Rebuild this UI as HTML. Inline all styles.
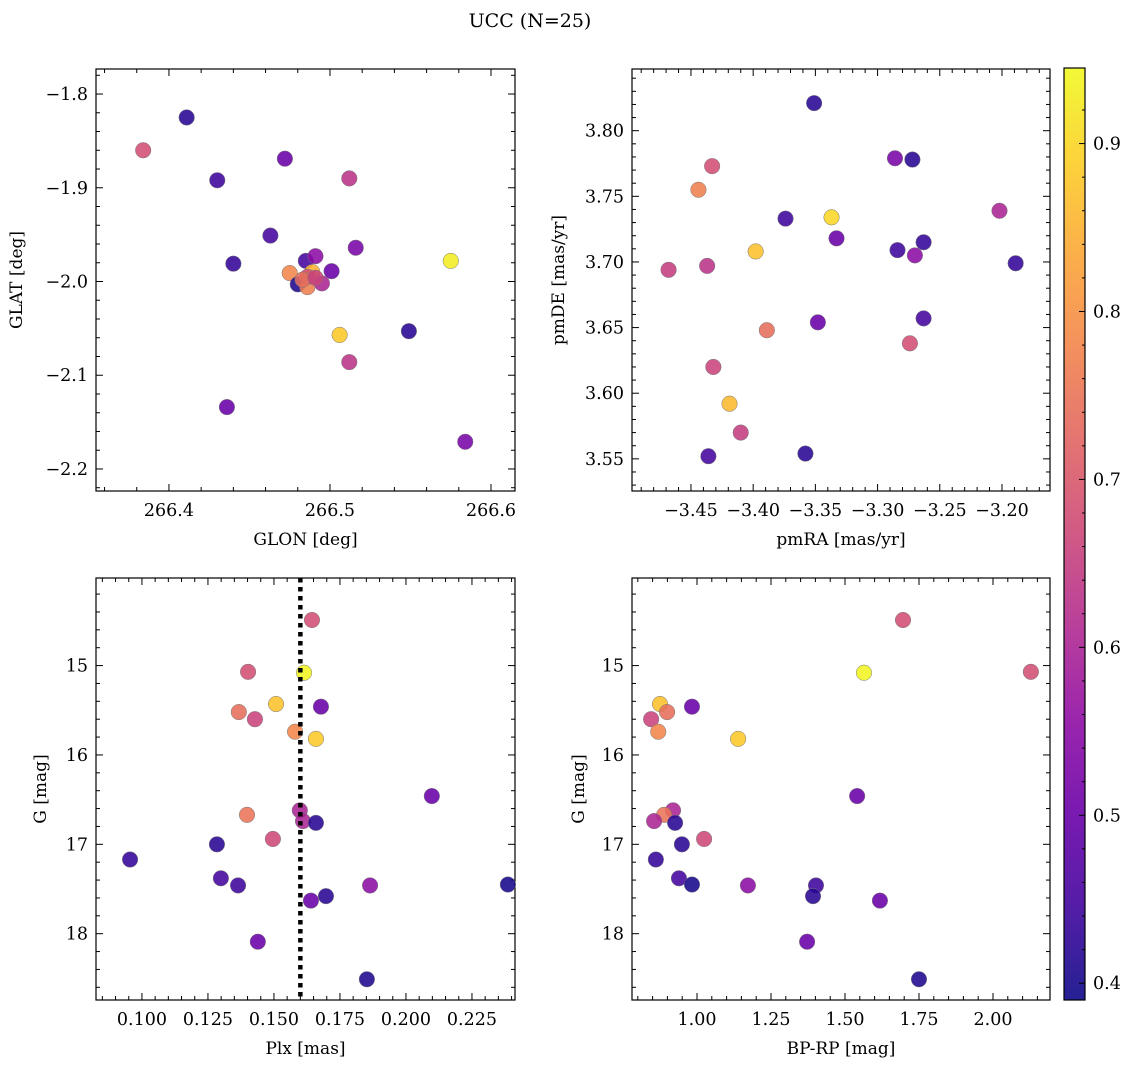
<!DOCTYPE html>
<html><head><meta charset="utf-8"><style>
body{margin:0;background:#fff}
svg text{font-family:"DejaVu Serif","Liberation Serif",serif;fill:#000}
</style></head><body>
<svg id="fig" width="1136" height="1068" xmlns="http://www.w3.org/2000/svg">
<text x="530" y="27" font-size="19" text-anchor="middle">UCC (N=25)</text>
</svg>
<script>
// Top-left: GLON/GLAT
const glon=[266.411,266.384,266.430,266.472,266.512,266.463,266.516,266.440,266.485,266.491,266.475,266.489,266.501,266.480,266.486,266.495,266.575,266.506,266.549,266.512,266.436,266.584,266.486,266.483,266.491];
const glat=[-1.825,-1.860,-1.892,-1.869,-1.890,-1.951,-1.964,-1.981,-1.978,-1.973,-1.991,-1.990,-1.989,-2.003,-2.006,-2.002,-1.978,-2.057,-2.053,-2.086,-2.134,-2.171,-1.995,-1.998,-1.996];
const probPos=[.42,.68,.44,.50,.63,.45,.52,.43,.45,.55,.78,.85,.50,.41,.77,.60,.93,.88,.42,.63,.50,.52,.68,.74,.66];
// Top-right: proper motions
const pmra=[-3.351,-3.433,-3.444,-3.286,-3.272,-3.374,-3.337,-3.202,-3.333,-3.398,-3.284,-3.263,-3.270,-3.189,-3.468,-3.437,-3.263,-3.348,-3.389,-3.274,-3.432,-3.419,-3.410,-3.436,-3.358];
const pmde=[3.821,3.773,3.755,3.779,3.778,3.733,3.734,3.739,3.718,3.708,3.709,3.715,3.705,3.699,3.694,3.697,3.657,3.654,3.648,3.638,3.620,3.592,3.570,3.552,3.554];
const probPM=[.42,.68,.77,.52,.42,.44,.90,.60,.50,.87,.44,.43,.55,.43,.65,.63,.45,.50,.74,.68,.66,.86,.65,.45,.42];
// Bottom: plx, G, BP-RP
const plx=[0.1644,0.1614,0.1402,0.1508,0.1678,0.1367,0.1428,0.1580,0.1659,0.2098,0.1598,0.1398,0.1610,0.1659,0.1496,0.1284,0.0955,0.1299,0.2386,0.1364,0.1864,0.1697,0.1640,0.1439,0.1852];
const gmag=[14.49,15.08,15.07,15.43,15.46,15.52,15.60,15.74,15.82,16.46,16.62,16.67,16.74,16.76,16.94,17.00,17.17,17.38,17.45,17.46,17.46,17.58,17.63,18.09,18.51];
const bprp=[1.696,1.564,2.128,0.875,0.983,0.899,0.845,0.869,1.139,1.541,0.919,0.889,0.855,0.926,1.024,0.949,0.861,0.939,0.983,1.402,1.172,1.392,1.618,1.372,1.750];
const probPh=[.68,.94,.68,.87,.50,.74,.66,.78,.88,.50,.60,.75,.60,.42,.67,.42,.43,.45,.40,.44,.55,.42,.50,.50,.41];
const plxLine=0.16;
const cbTicks=[0.4,0.5,0.6,0.7,0.8,0.9];
const vmin=0.39,vmax=0.945;

const NS="http://www.w3.org/2000/svg";
const svg=document.getElementById('fig');
function mk(t,a,p){const e=document.createElementNS(NS,t);for(const k in a)e.setAttribute(k,a[k]);(p||svg).appendChild(e);return e;}
const stops=["#0d0887","#41049d","#6a00a8","#8f0da4","#b12a90","#cc4778","#e16462","#f2844b","#fca636","#fcce25","#f0f921"];
function hex(h){return [1,3,5].map(i=>parseInt(h.substr(i,2),16));}
function cmap(v){let t=(v-vmin)/(vmax-vmin);t=Math.max(0,Math.min(1,t))*10;const i=Math.min(9,Math.floor(t)),f=t-i;const a=hex(stops[i]),b=hex(stops[i+1]);return 'rgb('+a.map((x,k)=>Math.round(x+(b[k]-x)*f)).join(',')+')';}
function fmt(v,d){return (v<0?'\u2212':'')+Math.abs(v).toFixed(d);}
const TFS=17.5, LFS=17;

function panel(name,box,xl,yl,xMaj,xMin,yMaj,yMin,xd,yd,xlabel,ylabel,ylx){
  const [x0,y0,x1,y1]=box;
  const g=mk('g',{});
  
  
  const sx=v=>x0+(v-xl[0])/(xl[1]-xl[0])*(x1-x0);
  const sy=v=>y0+(v-yl[0])/(yl[1]-yl[0])*(y1-y0);
  const tk=mk('g',{stroke:'#000','stroke-width':1},g);
  
  
  const lo=Math.min(...xl),hi=Math.max(...xl);
  for(let v=Math.ceil(lo/xMin-1e-6)*xMin;v<=hi+1e-9;v+=xMin){const x=sx(v);const maj=Math.abs(v/xMaj-Math.round(v/xMaj))<1e-4;const L=maj?7:4;
    mk('line',{x1:x,x2:x,y1:y1,y2:y1-L},tk);mk('line',{x1:x,x2:x,y1:y0,y2:y0+L},tk);
    if(maj){const t=mk('text',{x:x,y:y1+25,'font-size':TFS,'text-anchor':'middle'},g);t.textContent=fmt(v,xd);}}
  const ylo=Math.min(...yl),yhi=Math.max(...yl);
  for(let v=Math.ceil(ylo/yMin-1e-6)*yMin;v<=yhi+1e-9;v+=yMin){const y=sy(v);const maj=Math.abs(v/yMaj-Math.round(v/yMaj))<1e-4;const L=maj?7:4;
    mk('line',{x1:x0,x2:x0+L,y1:y,y2:y},tk);mk('line',{x1:x1,x2:x1-L,y1:y,y2:y},tk);
    if(maj){const t=mk('text',{x:x0-8,y:y+6,'font-size':TFS,'text-anchor':'end'},g);t.textContent=fmt(v,yd);}}
  const fr=mk('rect',{x:x0,y:y0,width:x1-x0,height:y1-y0,fill:'none',stroke:'#000','stroke-width':1.2},g);
  
  const xt=mk('text',{x:(x0+x1)/2,y:y1+54,'font-size':LFS,'text-anchor':'middle'},g);xt.textContent=xlabel;
  
  const yt=mk('text',{x:0,y:0,'font-size':LFS,'text-anchor':'middle',transform:`translate(${ylx},${(y0+y1)/2}) rotate(-90)`},g);yt.textContent=ylabel;
  
  return {g,sx,sy};
}
function scatter(p,xs,ys,cs){
  xs.forEach((v,i)=>{const c=mk('circle',{cx:p.sx(v),cy:p.sy(ys[i]),r:7.8,fill:cmap(cs[i]),'fill-opacity':0.88,stroke:'#777','stroke-width':0.5},p.g);
    
    });
}
const p1=panel('position-panel',[96,69,515,491],[266.3547,266.6149],[-1.7733,-2.2235],0.1,0.02,0.1,0.02,1,1,'GLON [deg]','GLAT [deg]',22);
scatter(p1,glon,glat,probPos);
const p2=panel('proper-motion-panel',[632,69,1050,491],[-3.4974,-3.1614],[3.847,3.5255],0.05,0.01,0.05,0.01,2,2,'pmRA [mas/yr]','pmDE [mas/yr]',564);
scatter(p2,pmra,pmde,probPM);
const p3=panel('parallax-panel',[96,578,515,1000],[0.0826,0.2413],[14.02,18.742],0.025,0.005,1,0.2,3,0,'Plx [mas]','G [mag]',46);
scatter(p3,plx,gmag,probPh);
const dl=mk('line',{x1:p3.sx(plxLine),x2:p3.sx(plxLine),y1:578,y2:1000,stroke:'#000','stroke-width':4.5,'stroke-dasharray':'4.5 4.5'},p3.g);


const p4=panel('cmd-panel',[632,578,1050,1000],[0.7804,2.1926],[14.02,18.742],0.25,0.05,1,0.2,2,0,'BP-RP [mag]','G [mag]',584);
scatter(p4,bprp,gmag,probPh);

// Colorbar
const cb=mk('g',{});


const defs=mk('defs',{});
const lg=mk('linearGradient',{id:'cbg',x1:0,y1:1,x2:0,y2:0},defs);
stops.forEach((s,i)=>mk('stop',{offset:i/10,'stop-color':s,'stop-opacity':0.9},lg));
const cy0=68,cy1=1000,cx0=1064,cx1=1085;
mk('rect',{x:cx0,y:cy0,width:cx1-cx0,height:cy1-cy0,fill:'url(#cbg)',stroke:'#000','stroke-width':1.2},cb);
const cby=v=>cy1-(v-vmin)/(vmax-vmin)*(cy1-cy0);
for(let v=0.40;v<=0.94;v+=0.02){const y=cby(v);const maj=Math.abs(v*10-Math.round(v*10))<1e-4;mk('line',{x1:cx1,x2:cx1-(maj?6:3),y1:y,y2:y,stroke:'#000'},cb);}
cbTicks.forEach(v=>{const t=mk('text',{x:cx1+8,y:cby(v)+6,'font-size':TFS},cb);t.textContent=v.toFixed(1);
  
  });
</script>
</body></html>
